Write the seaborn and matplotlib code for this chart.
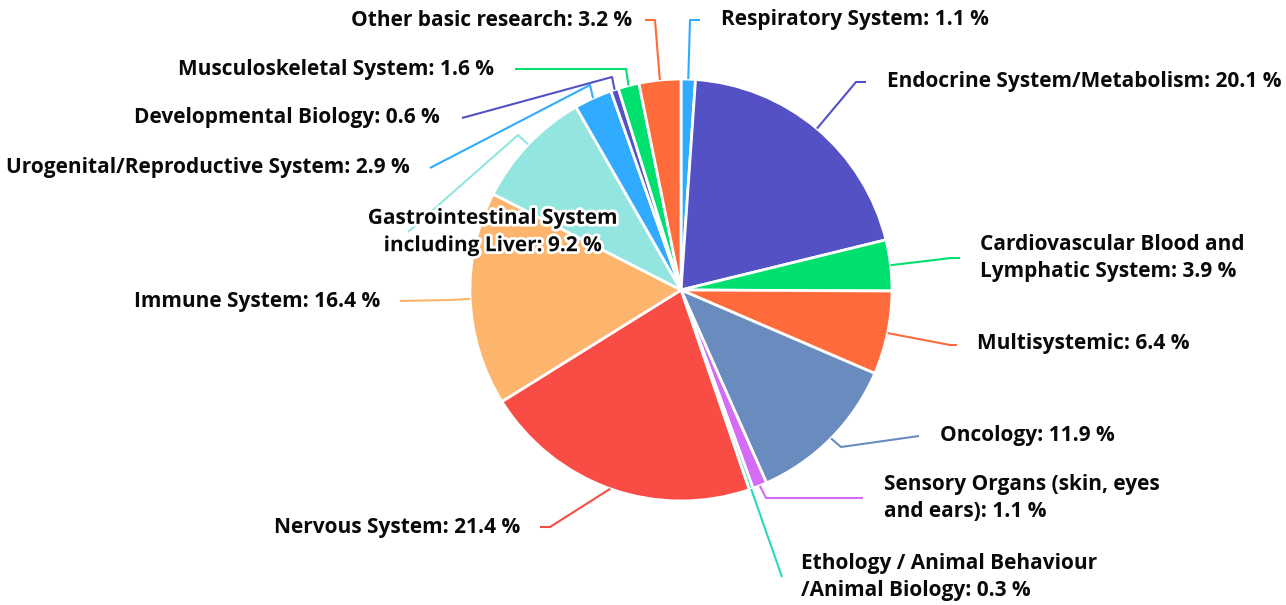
import matplotlib
matplotlib.use("Agg")
import matplotlib.pyplot as plt
import matplotlib.patheffects as pe
import numpy as np
import seaborn as sns

sns.set_theme(style="white")
plt.rcParams['font.family'] = ['Open Sans', 'DejaVu Sans']

# ---- data ----
categories = [
    "Respiratory System",
    "Endocrine System/Metabolism",
    "Cardiovascular Blood and\nLymphatic System",
    "Multisystemic",
    "Oncology",
    "Sensory Organs (skin, eyes\nand ears)",
    "Ethology / Animal Behaviour\n/Animal Biology",
    "Nervous System",
    "Immune System",
    "Gastrointestinal System\nincluding Liver",
    "Urogenital/Reproductive System",
    "Developmental Biology",
    "Musculoskeletal System",
    "Other basic research",
]
values = [1.1, 20.1, 3.9, 6.4, 11.9, 1.1, 0.3, 21.4, 16.4, 9.2, 2.9, 0.6, 1.6, 3.2]

palette = ["#30abff", "#5451c4", "#00e06f", "#ff6b3a", "#6a8bbd",
           "#d56cf6", "#2dd6c1", "#f94c45", "#fdb56d", "#93e6df"]
colors = [palette[i % len(palette)] for i in range(len(values))]

# label layout in pixel coords: (elbow_x, elbow_y, end_x, end_y, text_x, text_y, ha)
label_layout = [
    (690, 20, 700, 20, 721, 20, "left"),
    (856, 82, 866, 82, 887, 82, "left"),
    (951, 258, 960, 258, 980, 258, "left"),
    (950, 345, 957, 345, 977, 344, "left"),
    (841, 447, 919, 436, 940, 436, "left"),
    (766, 498, 863, 498, 884, 498, "left"),
    (782, 577, 782, 577, 801, 577, "left"),
    (550, 527, 540, 527, 520, 527, "right"),
    (450, 300, 400, 301, 380, 301, "right"),
    (518, 135, 408, 232, 493, 232, "center"),
    (590, 85, 430, 168, 410, 168, "right"),
    (612, 77, 462, 118, 440, 118, "right"),
    (626, 69, 515, 69, 494, 69, "right"),
    (655, 20, 645, 20, 632, 20, "right"),
]

W, H = 1286, 605
fig = plt.figure(figsize=(W / 100, H / 100), dpi=100)
ax = fig.add_axes([0, 0, 1, 1])
ax.set_xlim(0, W)
ax.set_ylim(0, H)
ax.axis("off")

cx, cy, R = 681, H - 290, 211
wedges, _ = ax.pie(values, colors=colors, startangle=90, counterclock=False,
                   center=(cx, cy), radius=R, normalize=True,
                   wedgeprops=dict(edgecolor="white", linewidth=2))
ax.set_xlim(0, W)
ax.set_ylim(0, H)
ax.set_aspect("equal")

for w, lab, val, col, lay in zip(wedges, categories, values, colors, label_layout):
    ang = np.deg2rad((w.theta1 + w.theta2) / 2)
    sx, sy = cx + R * np.cos(ang), cy + R * np.sin(ang)
    ex, ey = lay[0], H - lay[1]
    tx, ty = lay[2], H - lay[3]
    txx, tyy, ha = lay[4], H - lay[5], lay[6]
    ax.plot([sx, ex, tx], [sy, ey, ty], color=col, lw=1.5, solid_capstyle="butt", zorder=3)
    t = ax.text(txx, tyy, f"{lab}: {val} %", ha=ha, va="center", fontsize=15,
                fontweight="bold", color="#0a0a0a", linespacing=1.4, zorder=5)
    if ha == "center":
        t.set_path_effects([pe.withStroke(linewidth=4, foreground="white")])

fig.savefig("out.png", dpi=100, facecolor="white")
